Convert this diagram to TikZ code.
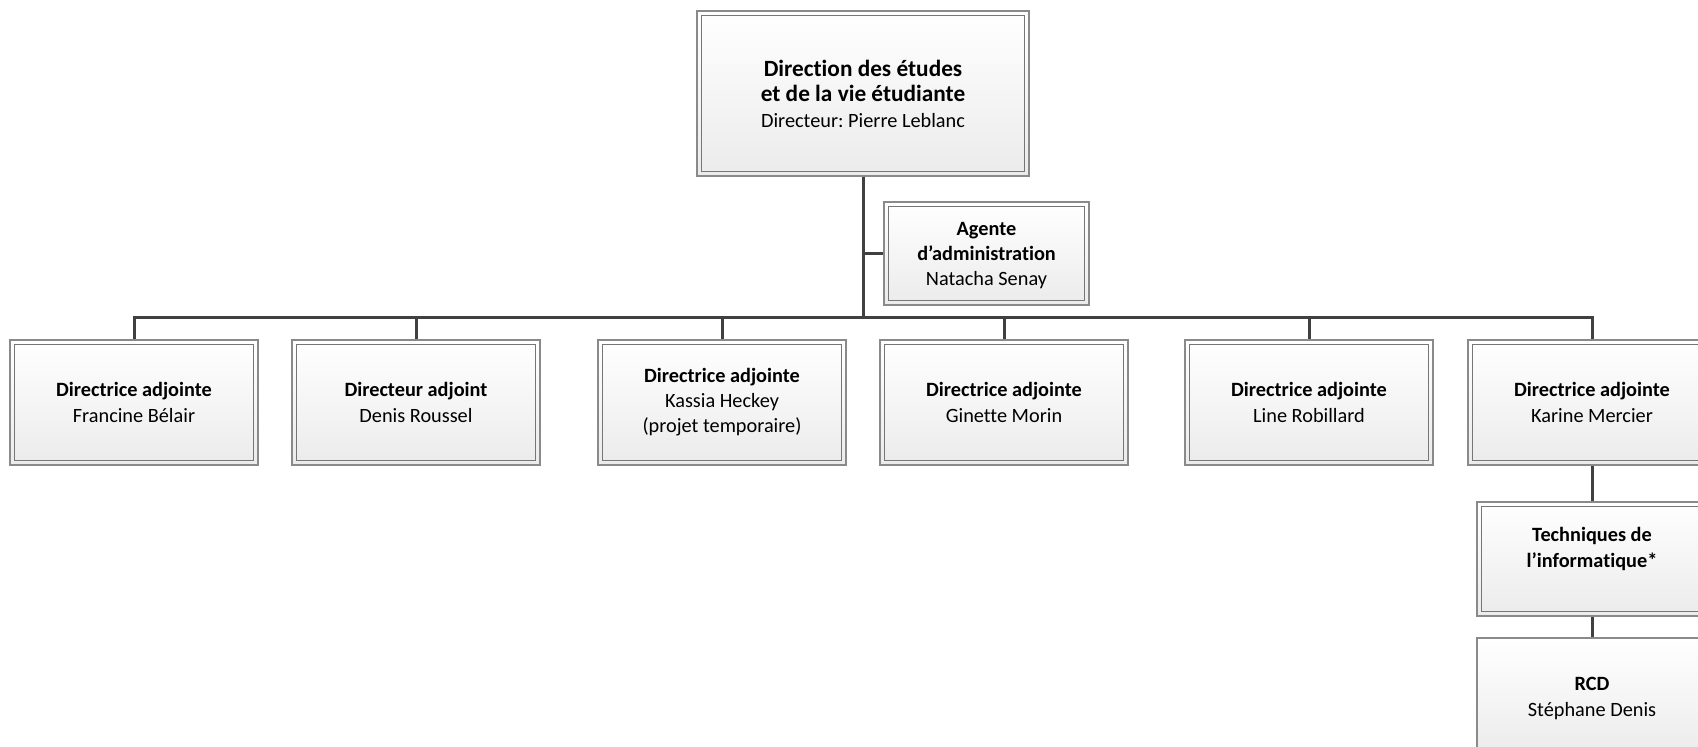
\documentclass[tikz,border=0pt]{standalone}
\usepackage{fontspec}
\setmainfont{Carlito}[Ligatures=NoCommon]
\frenchspacing
\definecolor{linec}{HTML}{404040}
\definecolor{outerc}{HTML}{8A8A8A}
\definecolor{innerc}{HTML}{767676}
\definecolor{boxbot}{HTML}{EBEBEB}
\tikzset{
  card/.style={draw=outerc, line width=1.3pt, top color=white, bottom color=boxbot,
    inner sep=0pt, align=center, text=black, font=\fontsize{20.3}{26}\selectfont},
  dbl/.style={card, path picture={\draw[innerc,line width=1.3pt]
    ([shift={(4.8pt,-4.8pt)}]path picture bounding box.north west) rectangle
    ([shift={(-4.8pt,4.8pt)}]path picture bounding box.south east);}},
  rowbox/.style={dbl, minimum width=248pt, minimum height=125pt},
  lbl/.style={align=center, inner sep=0pt, text=black, font=\fontsize{20.3}{26}\selectfont},
  conn/.style={draw=linec, line width=3pt}
}
\begin{document}
\begin{tikzpicture}[x=1pt,y=-1pt]
\useasboundingbox (0,0) rectangle (1698,747);
\clip (0,0) rectangle (1698,747);
% nodes
\node[dbl, minimum width=332pt, minimum height=165pt, font=\fontsize{20.3}{25.5}\selectfont] (top) at (863,93.5)
  {{\fontsize{23.3}{25.5}\selectfont\bfseries Direction des études}\\
   {\fontsize{23.3}{25.5}\selectfont\bfseries et de la vie étudiante}\\
   Directeur: Pierre Leblanc};
\node[dbl, minimum width=205pt, minimum height=103pt] (agent) at (986.5,253.5) {};
\node[lbl, font=\fontsize{20.3}{25}\selectfont] (agenttext) at (986.5,256)
  {\textbf{Agente}\\\textbf{d’administration}\\Natacha Senay};
\node[rowbox] (r1) at (134,402.5) {\textbf{Directrice adjointe}\\Francine Bélair};
\node[rowbox] (r2) at (416,402.5) {\textbf{Directeur adjoint}\\Denis Roussel};
\node[rowbox, font=\fontsize{20.3}{25}\selectfont] (r3) at (722,402.5) {\textbf{Directrice adjointe}\\Kassia Heckey\\(projet temporaire)};
\node[rowbox] (r4) at (1004,402.5) {\textbf{Directrice adjointe}\\Ginette Morin};
\node[rowbox] (r5) at (1309,402.5) {\textbf{Directrice adjointe}\\Line Robillard};
\node[rowbox] (r6) at (1592,402.5) {\textbf{Directrice adjointe}\\Karine Mercier};
\node[dbl, minimum width=230pt, minimum height=114pt] (tech) at (1592,559) {};
\node[lbl] (techtext) at (1592,549) {\textbf{Techniques de}\\\textbf{l’informatique*}};
\node[card, minimum width=230pt, minimum height=120pt] (rcd) at (1592,698) {\textbf{RCD}\\Stéphane Denis};
% connectors
\coordinate (bus) at (863,317);
\draw[conn] (top.south) -- (bus);
\draw[conn] (top.south |- agent.west) -- (agent.west);
\draw[conn] (r1.north) -- (r1.north |- bus) -- (r6.north |- bus) -- (r6.north);
\foreach \n in {r2,r3,r4,r5} \draw[conn] (\n.north |- bus) -- (\n.north);
\draw[conn] (r6.south) -- (tech.north);
\draw[conn] (tech.south) -- (rcd.north);
\end{tikzpicture}
\end{document}
